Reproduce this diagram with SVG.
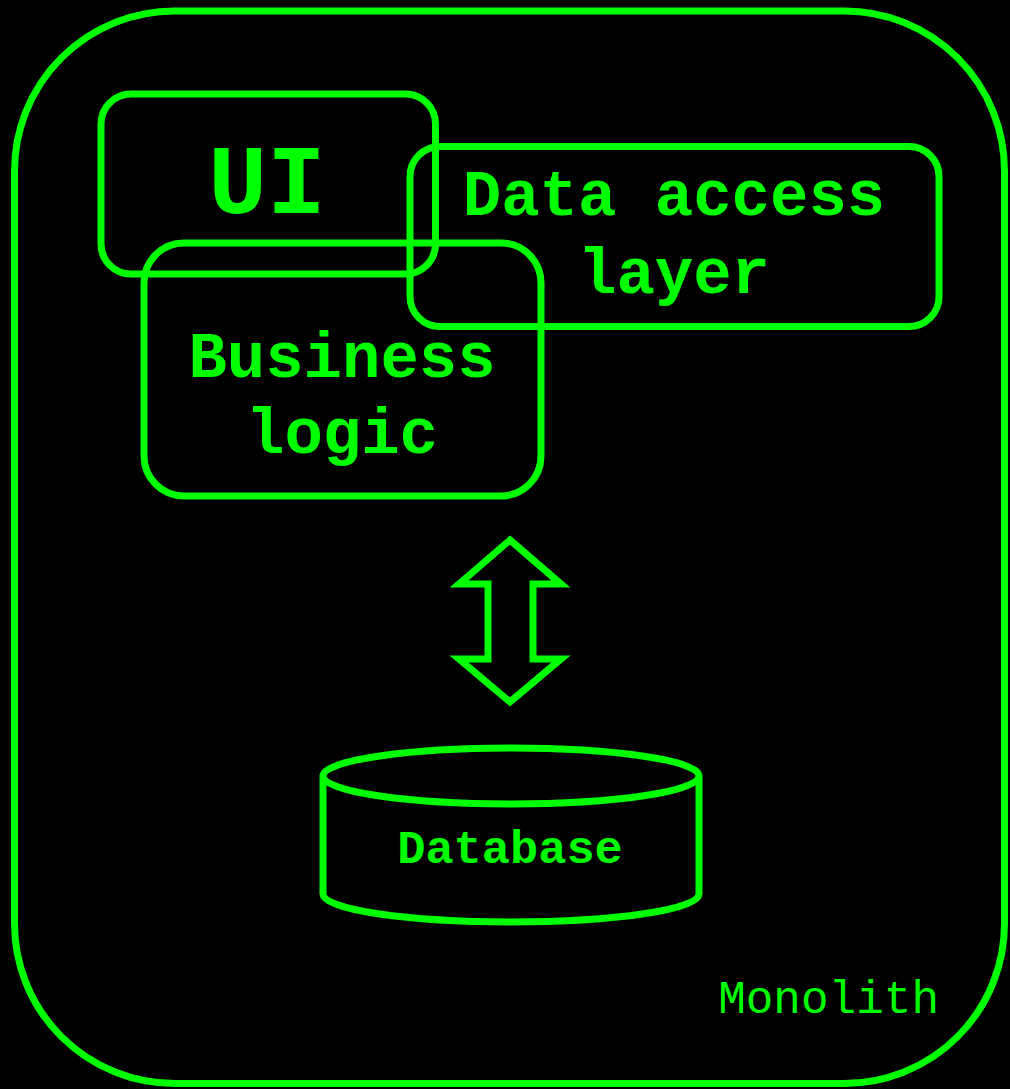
<svg xmlns="http://www.w3.org/2000/svg" width="1010" height="1089" viewBox="0 0 1010 1089">
  <style>
    .shape { fill: none; stroke: #00ff00; stroke-width: 7; }
    .label { fill: #00ff00; font-family: "Liberation Mono", "Courier New", monospace; font-weight: bold; text-anchor: middle; }
    .caption { fill: #00ff00; font-family: "Liberation Mono", "Courier New", monospace; font-size: 46px; text-anchor: end; }
  </style>
  <rect width="1010" height="1089" fill="#000000"/>

  <!-- Monolith boundary -->
  <g id="monolith">
    <rect class="shape" x="14.5" y="11" width="990" height="1072.5" rx="160" ry="160"/>
    <text class="caption" x="939" y="1013">Monolith</text>
  </g>

  <g id="ui">
    <rect class="shape" x="101" y="94" width="334.5" height="180" rx="30" ry="30"/>
    <text class="label" x="267" y="213" font-size="98">UI</text>
  </g>

  <g id="business-logic">
    <rect class="shape" x="144" y="243" width="397" height="253" rx="40" ry="40"/>
    <text class="label" x="342" y="377" font-size="64">Business</text>
    <text class="label" x="342" y="453" font-size="64">logic</text>
  </g>

  <g id="data-access-layer">
    <rect class="shape" x="410" y="146.5" width="529" height="180" rx="30" ry="30"/>
    <text class="label" x="674" y="215" font-size="64">Data access</text>
    <text class="label" x="674" y="293" font-size="64">layer</text>
  </g>

  <g id="database">
    <path class="shape" d="M323 777 L323 894 A188 28 0 0 0 699 894 L699 777"/>
    <ellipse class="shape" cx="511" cy="776" rx="188" ry="28"/>
    <text class="label" x="510" y="863" font-size="47">Database</text>
  </g>

  <!-- connectors -->
  <g id="connectors">
    <polygon class="shape" points="510,540 561,584 533,584 533,659 561,659 510,702 459,659 488,659 488,584 459,584"/>
  </g>
</svg>
